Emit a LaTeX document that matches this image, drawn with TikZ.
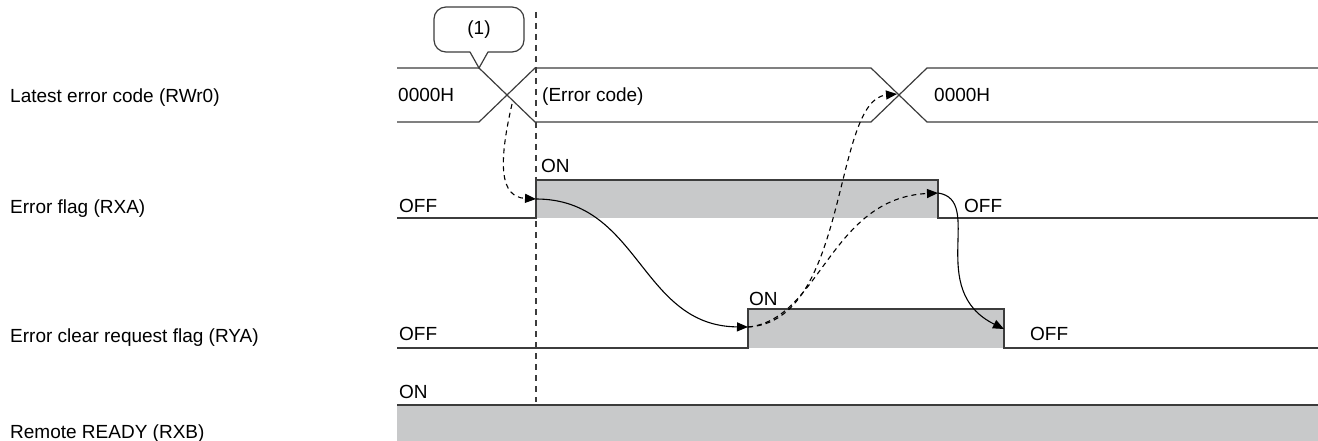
\documentclass[tikz,border=0pt]{standalone}
\usepackage{fontspec}
\setmainfont{Liberation Sans}
\usetikzlibrary{arrows.meta}
\definecolor{linha}{HTML}{3C3C3C}
\definecolor{cinza}{HTML}{C8C9CA}

\begin{document}
\begin{tikzpicture}[x=1pt, y=-1pt, >={Triangle[length=11pt,width=9pt]},
  sig/.style={draw=linha, line width=1.2pt},
  lbl/.style={anchor=base west, inner sep=0pt, font=\fontsize{19}{22}\selectfont},
  guide/.style={draw=linha, line width=1.1pt, dash pattern=on 6pt off 5pt},
  dasharrow/.style={->, line width=1.1pt, dash pattern=on 5pt off 4pt},
  solarrow/.style={->, line width=1.1pt}]
  \useasboundingbox (0,0) rectangle (1318,441);
  % signal names
  \node[lbl] (n0) at (10,103) {Latest error code (RWr0)};
  \node[lbl] (n1) at (10,213) {Error flag (RXA)};
  \node[lbl] (n2) at (10,342) {Error clear request flag (RYA)};
  \node[lbl] (n3) at (10,438) {Remote READY (RXB)};
  % RWr0 bus
  \draw[sig] (397,68) -- (479,68) -- (535,122) -- (871,122) -- (927,68) -- (1318,68);
  \draw[sig] (397,122) -- (479,122) -- (535,68) -- (871,68) -- (927,122) -- (1318,122);
  \coordinate (x1) at (512,104);
  \coordinate (x2) at (897,94);
  \node[lbl] (v0) at (398,102) {0000H};
  \node[lbl] (v1) at (542,102) {(Error code)};
  \node[lbl] (v2) at (934,102) {0000H};
  % RXA
  \fill[cinza] (536,180) rectangle (938,218);
  \draw[sig] (397,218) -- (536,218) -- (536,180) -- (938,180) -- (938,218) -- (1318,218);
  \coordinate (a-up) at (536,199);
  \coordinate (a-dn) at (938,193);
  \node[lbl] (a0) at (399,212) {OFF};
  \node[lbl] (a1) at (541,172) {ON};
  \node[lbl] (a2) at (964,212) {OFF};
  % RYA
  \fill[cinza] (748,309) rectangle (1004,348);
  \draw[sig] (397,348) -- (748,348) -- (748,309) -- (1004,309) -- (1004,348) -- (1318,348);
  \coordinate (b-up) at (748,327);
  \coordinate (b-dn) at (1004,329);
  \node[lbl] (b0) at (399,340) {OFF};
  \node[lbl] (b1) at (749,305) {ON};
  \node[lbl] (b2) at (1030,340) {OFF};
  % RXB
  \fill[cinza] (397,405) rectangle (1318,441);
  \draw[sig] (397,405) -- (1318,405);
  \node[lbl] (c1) at (399,398) {ON};
  % timing guide
  \draw[guide] (536,12) -- (536,402);
  % callout (1)
  \node[draw=linha, line width=1.2pt, rounded corners=12pt, fill=white,
        minimum width=90pt, minimum height=45pt, inner sep=0pt,
        font=\fontsize{19}{22}\selectfont] (k1) at (479,29.5) {(1)};
  \fill[white] (470,51) -- (488,51) -- (479,67) -- cycle;
  \draw[draw=linha, line width=1.2pt] (470,52) -- (479,68) -- (488,52);
  % handshake arrows
  \draw[dasharrow] (x1) .. controls (498,165) and (500,197) .. (a-up);
  \draw[solarrow] (a-up) .. controls (640,199) and (640,326) .. (b-up);
  \draw[dasharrow] (b-up) .. controls (850,322) and (832,100) .. (x2);
  \draw[dasharrow] (b-up) .. controls (820,320) and (830,198) .. (a-dn);
  \draw[solarrow] (a-dn) .. controls (985,200) and (925,290) .. (b-dn);
\end{tikzpicture}
\end{document}
